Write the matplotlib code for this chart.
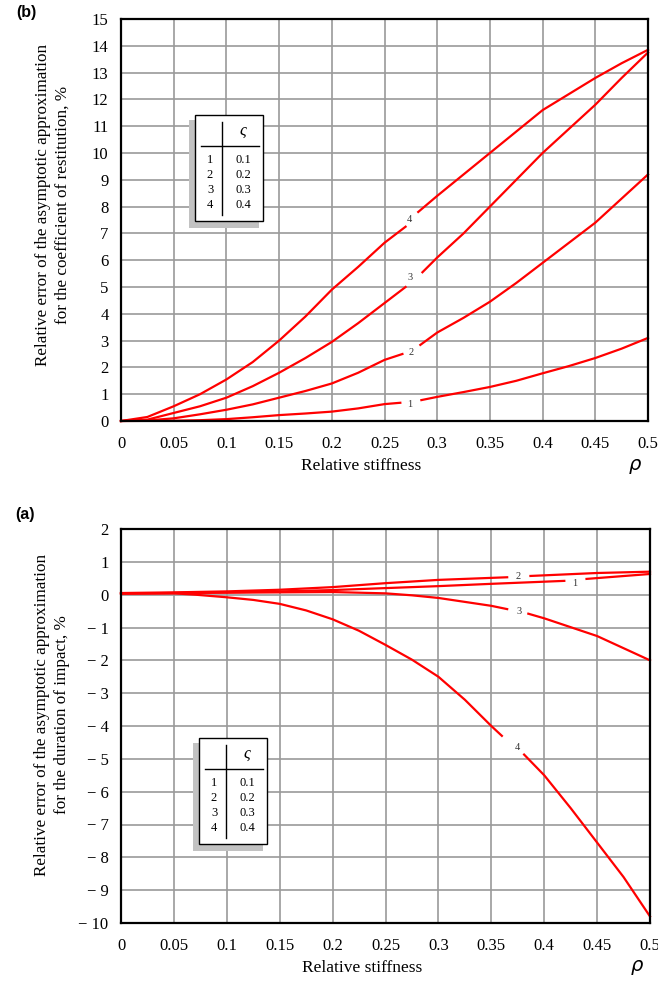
import numpy as np
import matplotlib
matplotlib.use("Agg")
import matplotlib.pyplot as plt
from matplotlib.patches import Rectangle

nan = np.nan

# (b) relative error for the coefficient of restitution, %
b1_x = [0, 0.05, 0.075, 0.1, 0.125, 0.15, 0.175, 0.2, 0.225, 0.25, 0.265, nan, 0.285, 0.3, 0.325, 0.35, 0.375, 0.4, 0.425, 0.45, 0.475, 0.5]
b1_y = [0, 0.01, 0.03, 0.07, 0.14, 0.22, 0.28, 0.35, 0.47, 0.63, 0.68, nan, 0.78, 0.9, 1.08, 1.27, 1.5, 1.78, 2.05, 2.35, 2.7, 3.1]
b2_x = [0, 0.025, 0.05, 0.075, 0.1, 0.125, 0.15, 0.175, 0.2, 0.225, 0.25, 0.267, nan, 0.284, 0.3, 0.325, 0.35, 0.375, 0.4, 0.425, 0.45, 0.475, 0.5]
b2_y = [0, 0.02, 0.1, 0.25, 0.42, 0.62, 0.87, 1.12, 1.4, 1.8, 2.28, 2.5, nan, 2.84, 3.3, 3.85, 4.45, 5.15, 5.9, 6.65, 7.4, 8.3, 9.2]
b3_x = [0, 0.025, 0.05, 0.075, 0.1, 0.125, 0.15, 0.175, 0.2, 0.225, 0.25, 0.27, nan, 0.286, 0.3, 0.325, 0.35, 0.375, 0.4, 0.425, 0.45, 0.475, 0.5]
b3_y = [0, 0.05, 0.3, 0.55, 0.87, 1.3, 1.8, 2.35, 2.95, 3.65, 4.4, 5.0, nan, 5.55, 6.1, 7.0, 8.0, 9.0, 10.0, 10.9, 11.8, 12.8, 13.75]
b4_x = [0, 0.025, 0.05, 0.075, 0.1, 0.125, 0.15, 0.175, 0.2, 0.225, 0.25, 0.27, nan, 0.282, 0.3, 0.325, 0.35, 0.375, 0.4, 0.425, 0.45, 0.475, 0.5]
b4_y = [0, 0.15, 0.55, 1.0, 1.55, 2.2, 3.0, 3.9, 4.9, 5.75, 6.65, 7.25, nan, 7.8, 8.4, 9.2, 10.0, 10.8, 11.6, 12.2, 12.8, 13.35, 13.85]
b_labels = ['1', '2', '3', '4']
b_label_x = [0.274, 0.275, 0.274, 0.274]
b_label_y = [0.6, 2.57, 5.35, 7.5]

# (a) relative error for the duration of impact, %
a1_x = [0, 0.05, 0.1, 0.15, 0.2, 0.25, 0.3, 0.35, 0.419, nan, 0.44, 0.5]
a1_y = [0.04, 0.05, 0.07, 0.1, 0.14, 0.2, 0.26, 0.33, 0.42, nan, 0.48, 0.63]
a2_x = [0, 0.05, 0.1, 0.15, 0.2, 0.25, 0.3, 0.365, nan, 0.387, 0.45, 0.5]
a2_y = [0.05, 0.07, 0.1, 0.15, 0.23, 0.35, 0.45, 0.53, nan, 0.57, 0.66, 0.7]
a3_x = [0, 0.05, 0.1, 0.15, 0.2, 0.25, 0.275, 0.3, 0.325, 0.35, 0.365, nan, 0.385, 0.4, 0.45, 0.5]
a3_y = [0.04, 0.05, 0.06, 0.07, 0.08, 0.04, -0.02, -0.1, -0.22, -0.34, -0.44, nan, -0.58, -0.72, -1.26, -2.0]
a4_x = [0, 0.05, 0.07, 0.1, 0.125, 0.15, 0.175, 0.2, 0.225, 0.25, 0.275, 0.3, 0.325, 0.35, 0.36, nan, 0.381, 0.4, 0.425, 0.45, 0.475, 0.5]
a4_y = [0.03, 0.04, 0.0, -0.08, -0.16, -0.28, -0.48, -0.75, -1.1, -1.53, -1.98, -2.5, -3.2, -4.0, -4.3, nan, -4.87, -5.5, -6.5, -7.55, -8.6, -9.8]
a_labels = ['1', '2', '3', '4']
a_label_x = [0.429, 0.375, 0.376, 0.375]
a_label_y = [0.33, 0.54, -0.5, -4.67]

zeta_num = ['1', '2', '3', '4']
zeta_val = ['0.1', '0.2', '0.3', '0.4']

x_ticks = [0, 0.05, 0.1, 0.15, 0.2, 0.25, 0.3, 0.35, 0.4, 0.45, 0.5]
x_tick_labels = ['0', '0.05', '0.1', '0.15', '0.2', '0.25', '0.3', '0.35', '0.4', '0.45', '0.5']
b_yticks = list(range(0, 16))
a_yticks = list(range(-10, 3))

W, H = 658, 989
plt.rcParams['font.family'] = ['Liberation Serif', 'DejaVu Serif']

fig = plt.figure(figsize=(W / 100, H / 100), dpi=100)


def px_box(x0, y0, x1, y1):
    # pixel box (y down) -> figure fraction rect
    return [x0 / W, 1 - y1 / H, (x1 - x0) / W, (y1 - y0) / H]


def setup(ax, yticks, ylabel, label_y):
    ax.set_xlim(0, 0.5)
    ax.set_ylim(yticks[0], yticks[-1])
    ax.set_xticks(x_ticks)
    ax.set_xticklabels(x_tick_labels)
    ax.set_yticks(yticks)
    ax.set_yticklabels([('\u2212 %d' % -v) if v < 0 else str(v) for v in yticks])
    ax.tick_params(length=0, labelsize=12)
    ax.tick_params(axis='y', pad=9)
    ax.tick_params(axis='x', pad=11)
    ax.grid(True, color='#9a9a9a', lw=1.2)
    ax.set_axisbelow(True)
    for s in ax.spines.values():
        s.set_linewidth(1.6)
        s.set_color('black')
    ax.text(0.455, -0.113, 'Relative stiffness', transform=ax.transAxes,
            ha='center', va='center', fontsize=12.5)
    ax.text(0.975, -0.112, r'$\rho$', transform=ax.transAxes,
            ha='center', va='center', fontsize=14)
    ax.text(-0.13, label_y, ylabel, transform=ax.transAxes, rotation=90,
            ha='center', va='center', fontsize=12.3, multialignment='center',
            linespacing=1.3)


def draw_table(x0, y0):
    fig.patches.append(Rectangle(((x0 - 6) / W, 1 - (y0 + 113) / H), 70 / W, 108 / H,
                                 transform=fig.transFigure, facecolor='#c2c2c2',
                                 edgecolor='none', zorder=5))
    fig.patches.append(Rectangle((x0 / W, 1 - (y0 + 106) / H), 68 / W, 106 / H,
                                 transform=fig.transFigure, facecolor='white',
                                 edgecolor='black', lw=1.0, zorder=6))
    fig.lines.append(plt.Line2D([(x0 + 27) / W] * 2, [1 - (y0 + 7) / H, 1 - (y0 + 100) / H],
                                transform=fig.transFigure, color='black', lw=1.0, zorder=7))
    fig.lines.append(plt.Line2D([(x0 + 6) / W, (x0 + 64) / W], [1 - (y0 + 31) / H] * 2,
                                transform=fig.transFigure, color='black', lw=1.0, zorder=7))
    fig.text((x0 + 48) / W, 1 - (y0 + 16) / H, '\u03c2', ha='center', va='center',
             fontsize=12, zorder=8, style='italic')
    for i in range(len(zeta_num)):
        yy = 1 - (y0 + 45 + 15 * i) / H
        fig.text((x0 + 15) / W, yy, zeta_num[i], ha='center', va='center', fontsize=9, zorder=8)
        fig.text((x0 + 48) / W, yy, zeta_val[i], ha='center', va='center', fontsize=9, zorder=8)


# ---- (b) top panel
axb = fig.add_axes(px_box(121, 19, 648, 421))
setup(axb, b_yticks, 'Relative error of the asymptotic approximation\nfor the coefficient of restitution, %', 0.537)
for xs, ys in [(b1_x, b1_y), (b2_x, b2_y), (b3_x, b3_y), (b4_x, b4_y)]:
    axb.plot(xs, ys, color='red', lw=1.6, clip_on=False)
for i in range(4):
    axb.text(b_label_x[i], b_label_y[i], b_labels[i], ha='center', va='center',
             fontsize=7.5, color='#333333')
draw_table(195, 115)
fig.text(26 / W, 1 - 13 / H, '(b)', ha='center', va='center', fontsize=11.5,
         fontweight='bold', family='Liberation Sans')

# ---- (a) bottom panel
axa = fig.add_axes(px_box(121, 529, 650, 923))
setup(axa, a_yticks, 'Relative error of the asymptotic approximation\nfor the duration of impact, %', 0.528)
for xs, ys in [(a1_x, a1_y), (a2_x, a2_y), (a3_x, a3_y), (a4_x, a4_y)]:
    axa.plot(xs, ys, color='red', lw=1.6, clip_on=False)
for i in range(4):
    axa.text(a_label_x[i], a_label_y[i], a_labels[i], ha='center', va='center',
             fontsize=7.5, color='#333333')
draw_table(199, 738)
fig.text(25 / W, 1 - 515 / H, '(a)', ha='center', va='center', fontsize=11.5,
         fontweight='bold', family='Liberation Sans')

fig.savefig('out.png', dpi=100)
